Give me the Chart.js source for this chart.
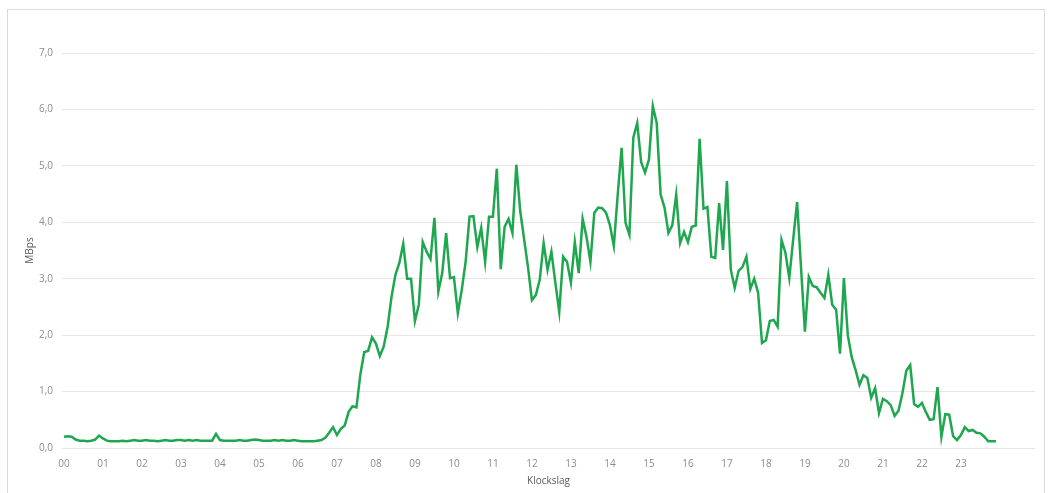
<!DOCTYPE html>
<html>
<head>
<meta charset="utf-8">
<script src="https://cdn.jsdelivr.net/npm/chart.js@4.4.1/dist/chart.umd.min.js"></script>
<style>
  body { margin: 0; background: #fff; }
  #wrap { width: 1048px; height: 493px; }
</style>
</head>
<body>
<div id="wrap"><canvas id="mycanvas" width="1048" height="493"></canvas></div>
<script>
// tick labels on the time axis (hours)
var hourLabels = ["00","01","02","03","04","05","06","07","08","09","10","11",
                  "12","13","14","15","16","17","18","19","20","21","22","23"];
// one sample every 6 minutes (0.1 h), starting at 00:00
var stepHours = 0.1;
var mbps = [
  0.20,0.21,0.20,0.15,0.13,0.13,0.12,0.13,0.15,0.22,
  0.17,0.13,0.12,0.12,0.12,0.13,0.12,0.13,0.14,0.13,
  0.13,0.14,0.13,0.13,0.12,0.13,0.14,0.13,0.13,0.14,
  0.14,0.13,0.14,0.13,0.14,0.13,0.13,0.13,0.13,0.25,
  0.14,0.13,0.13,0.13,0.13,0.14,0.13,0.13,0.14,0.15,
  0.14,0.13,0.13,0.13,0.14,0.13,0.14,0.13,0.13,0.14,
  0.13,0.12,0.12,0.12,0.12,0.13,0.14,0.18,0.27,0.37,
  0.23,0.34,0.40,0.64,0.74,0.72,1.30,1.70,1.72,1.96,
  1.85,1.63,1.80,2.15,2.68,3.07,3.28,3.62,3.00,3.00,
  2.25,2.54,3.65,3.48,3.35,4.08,2.77,3.10,3.81,3.01,
  3.03,2.39,2.80,3.30,4.10,4.11,3.56,3.90,3.30,4.10,
  4.10,4.95,3.17,3.92,4.06,3.81,5.02,4.20,3.70,3.20,
  2.62,2.71,2.98,3.63,3.16,3.48,2.93,2.41,3.39,3.30,
  2.93,3.65,3.10,4.06,3.74,3.30,4.17,4.26,4.25,4.17,
  3.95,3.58,4.49,5.32,3.99,3.78,5.50,5.76,5.07,4.88,
  5.11,6.06,5.76,4.49,4.26,3.81,3.95,4.49,3.63,3.83,
  3.65,3.92,3.94,5.48,4.24,4.27,3.39,3.37,4.34,3.51,
  4.73,3.16,2.84,3.14,3.21,3.39,2.82,3.00,2.75,1.86,
  1.91,2.25,2.27,2.15,3.69,3.46,3.01,3.70,4.36,3.20,
  2.06,3.03,2.87,2.85,2.75,2.66,3.07,2.54,2.45,1.67,
  3.01,2.00,1.61,1.38,1.12,1.29,1.24,0.89,1.06,0.62,
  0.87,0.83,0.76,0.57,0.66,0.97,1.37,1.47,0.78,0.73,
  0.80,0.64,0.50,0.51,1.08,0.20,0.60,0.59,0.21,0.14,
  0.23,0.37,0.30,0.32,0.27,0.26,0.20,0.12,0.12,0.12
];

var points = [];
for (var i in mbps) {
  points.push({x: i * stepHours, y: mbps[i]});
}

// thin grey frame round the whole chart, like the Excel chart area
var framePlugin = {
  id: 'frame',
  beforeDraw: function(chart) {
    var c = chart.ctx;
    c.save();
    c.strokeStyle = '#d9d9d9';
    c.lineWidth = 1;
    c.strokeRect(7.5, 9.5, 1037, 495);
    c.restore();
  }
};

var ctx = document.getElementById('mycanvas');
var lineGraph = new Chart(ctx, {
  type: 'line',
  data: {
    datasets: [{
      label: 'MBps',
      data: points,
      borderColor: '#1fa74f',
      borderWidth: 2.5,
      pointRadius: 0,
      tension: 0,
      fill: false
    }]
  },
  options: {
    responsive: false,
    animation: false,
    layout: {padding: {left: 24, right: 13, top: 53, bottom: 6}},
    plugins: {
      legend: {display: false},
      tooltip: {enabled: false}
    },
    scales: {
      x: {
        type: 'linear',
        min: -0.05,
        max: 24.9,
        grid: {display: false},
        border: {display: false},
        afterBuildTicks: function(s) {
          s.ticks = hourLabels.map(function(l, h) { return {value: h}; });
        },
        ticks: {
          autoSkip: false,
          maxRotation: 0,
          padding: 2,
          color: '#8c8c8c',
          font: {family: 'Open Sans', size: 10},
          callback: function(v) { return hourLabels[v]; }
        },
        title: {display: true, text: 'Klockslag', color: '#595959',
                font: {family: 'Open Sans', size: 10}, padding: {top: 2, bottom: 0}},
        afterFit: function(s) { s.height = 39; }
      },
      y: {
        min: 0,
        max: 7,
        grid: {color: '#e6e6e6', drawTicks: false},
        border: {display: false},
        ticks: {
          stepSize: 1,
          padding: 9,
          color: '#8c8c8c',
          font: {family: 'Open Sans', size: 10},
          callback: function(v) { return v.toFixed(1).replace('.', ','); }
        },
        title: {display: true, text: 'MBps', color: '#595959',
                font: {family: 'Open Sans', size: 10}, padding: 0},
        afterFit: function(s) { s.width = 38; }
      }
    }
  },
  plugins: [framePlugin]
});
</script>
</body>
</html>
